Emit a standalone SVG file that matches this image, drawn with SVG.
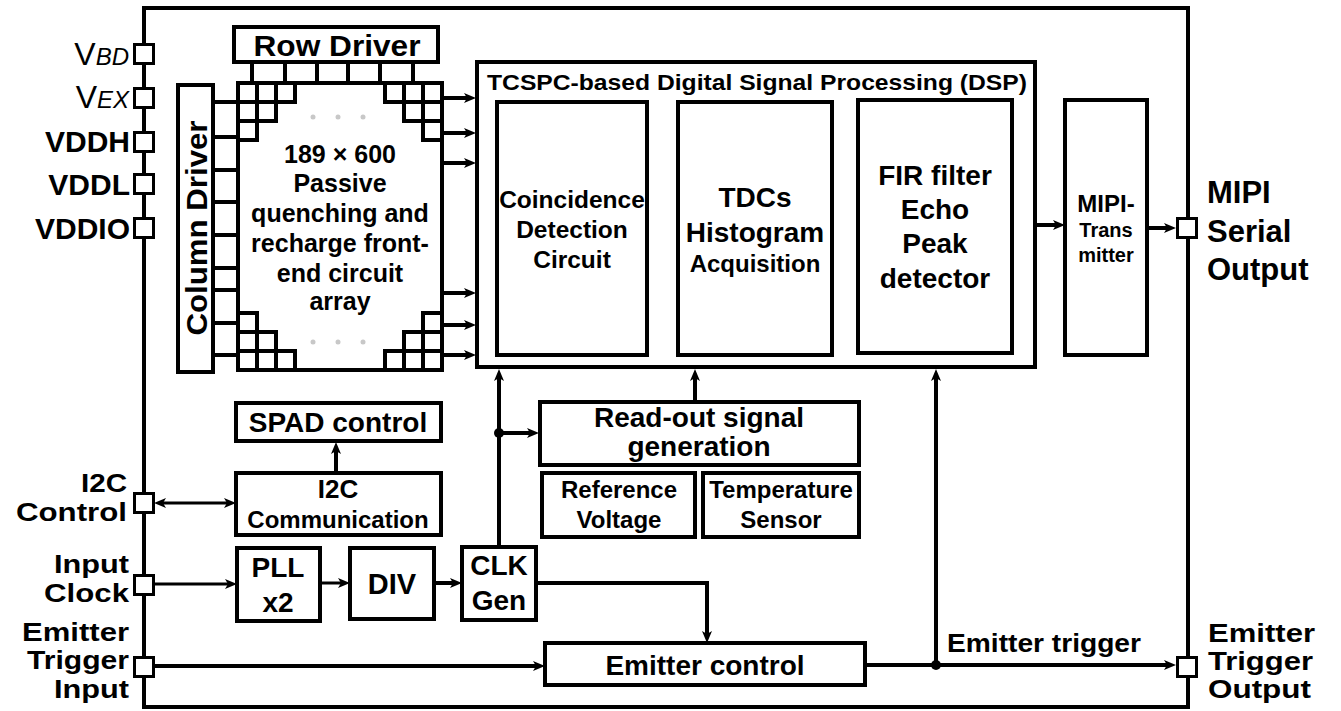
<svg xmlns="http://www.w3.org/2000/svg" width="1341" height="711" viewBox="0 0 1341 711">
<style>
.box{fill:#fff;stroke:#000;stroke-width:4}
.cell{fill:#fff;stroke:#000;stroke-width:4}
.pin{fill:#fff;stroke:#000;stroke-width:3}
.t{font-family:"Liberation Sans",Arial,Helvetica,sans-serif;font-weight:bold;fill:#000}
.c{text-anchor:middle}
.e{text-anchor:end}
.w{fill:none;stroke:#000;stroke-width:4}
.w3{fill:none;stroke:#000;stroke-width:3}
.dot{fill:#c8c8c8}
</style>
<defs>
<marker id="ah" markerUnits="userSpaceOnUse" markerWidth="13" markerHeight="11" refX="6" refY="5" orient="auto-start-reverse" viewBox="0 0 13 11">
<path d="M0,0 L12,5 L0,10 L3,5 z" fill="#000"/>
</marker>
</defs>
<rect width="1341" height="711" fill="#fff"/>

<g id="chip">
<rect x="144" y="8" width="1044" height="699" fill="none" stroke="#000" stroke-width="4"/>
</g>

<g id="connectors">
<path class="w" d="M252,62V83 M285,62V83 M317,62V83 M348,62V83 M380,62V83 M413,62V83"/>
<path class="w" d="M213,102H238 M213,137H238 M213,170H238 M213,202H238 M213,235H238 M213,268H238 M213,290H238 M213,323H238 M213,355H238"/>
<path class="w" marker-end="url(#ah)" d="M442,98H470"/>
<path class="w" marker-end="url(#ah)" d="M442,133H470"/>
<path class="w" marker-end="url(#ah)" d="M442,163H470"/>
<path class="w" marker-end="url(#ah)" d="M442,293H470"/>
<path class="w" marker-end="url(#ah)" d="M442,325H470"/>
<path class="w" marker-end="url(#ah)" d="M442,355H470"/>
<path class="w" marker-end="url(#ah)" d="M647,230H672"/>
<path class="w" marker-end="url(#ah)" d="M832,230H852"/>
<path class="w" marker-end="url(#ah)" d="M1035,225H1059"/>
<path class="w" marker-end="url(#ah)" d="M1147,228H1170"/>
<path class="w3" marker-start="url(#ah)" marker-end="url(#ah)" d="M160,503H230"/>
<path class="w" marker-end="url(#ah)" d="M336,472V448"/>
<path class="w3" marker-end="url(#ah)" d="M155,584H231"/>
<path class="w3" marker-end="url(#ah)" d="M320,583H344"/>
<path class="w" marker-end="url(#ah)" d="M434,583H456"/>
<path class="w" marker-end="url(#ah)" d="M499,547V375"/>
<path class="w" marker-end="url(#ah)" d="M499,433H533"/>
<circle cx="499" cy="433" r="5" fill="#000"/>
<path class="w" marker-end="url(#ah)" d="M695,402V375"/>
<path class="w" marker-end="url(#ah)" d="M536,583H707V637"/>
<path class="w" marker-end="url(#ah)" d="M155,666H539"/>
<path class="w" marker-end="url(#ah)" d="M865,665H1170"/>
<path class="w" marker-end="url(#ah)" d="M936,665V375"/>
<circle cx="936" cy="665" r="5" fill="#000"/>
<text class="t" x="947" y="652" font-size="26" textLength="194" lengthAdjust="spacingAndGlyphs">Emitter trigger</text>
</g>

<g id="row-driver">
<rect class="box" x="234" y="27" width="204" height="35"/>
<text class="t c" x="337" y="56" font-size="29" textLength="167" lengthAdjust="spacingAndGlyphs">Row Driver</text>
</g>

<g id="column-driver">
<rect class="box" x="178" y="85" width="35" height="287"/>
<text class="t c" transform="translate(207,228) rotate(-90)" font-size="29" textLength="215" lengthAdjust="spacingAndGlyphs">Column Driver</text>
</g>

<g id="spad-array">
<rect class="box" x="238" y="83" width="204" height="287"/>
<rect class="cell" x="238" y="83" width="19" height="19"/>
<rect class="cell" x="257" y="83" width="19" height="19"/>
<rect class="cell" x="276" y="83" width="19" height="19"/>
<rect class="cell" x="238" y="102" width="19" height="19"/>
<rect class="cell" x="257" y="102" width="19" height="19"/>
<rect class="cell" x="238" y="121" width="19" height="19"/>
<rect class="cell" x="385" y="83" width="19" height="19"/>
<rect class="cell" x="404" y="83" width="19" height="19"/>
<rect class="cell" x="423" y="83" width="19" height="19"/>
<rect class="cell" x="404" y="102" width="19" height="19"/>
<rect class="cell" x="423" y="102" width="19" height="19"/>
<rect class="cell" x="423" y="121" width="19" height="19"/>
<rect class="cell" x="238" y="351" width="19" height="19"/>
<rect class="cell" x="257" y="351" width="19" height="19"/>
<rect class="cell" x="276" y="351" width="19" height="19"/>
<rect class="cell" x="238" y="332" width="19" height="19"/>
<rect class="cell" x="257" y="332" width="19" height="19"/>
<rect class="cell" x="238" y="313" width="19" height="19"/>
<rect class="cell" x="385" y="351" width="19" height="19"/>
<rect class="cell" x="404" y="351" width="19" height="19"/>
<rect class="cell" x="423" y="351" width="19" height="19"/>
<rect class="cell" x="404" y="332" width="19" height="19"/>
<rect class="cell" x="423" y="332" width="19" height="19"/>
<rect class="cell" x="423" y="313" width="19" height="19"/>
<circle class="dot" cx="313" cy="117" r="2.5"/>
<circle class="dot" cx="338" cy="117" r="2.5"/>
<circle class="dot" cx="363" cy="117" r="2.5"/>
<circle class="dot" cx="313" cy="342" r="2.5"/>
<circle class="dot" cx="338" cy="342" r="2.5"/>
<circle class="dot" cx="363" cy="342" r="2.5"/>
<text class="t c" x="340" y="163" font-size="25">189 × 600</text>
<text class="t c" x="340" y="192" font-size="25">Passive</text>
<text class="t c" x="340" y="222" font-size="25">quenching and</text>
<text class="t c" x="340" y="252" font-size="25">recharge front-</text>
<text class="t c" x="340" y="282" font-size="25">end circuit</text>
<text class="t c" x="340" y="310" font-size="25">array</text>
</g>

<g id="dsp">
<rect class="box" x="477" y="62" width="558" height="305"/>
<text class="t" x="487" y="90" font-size="22" textLength="540" lengthAdjust="spacingAndGlyphs">TCSPC-based Digital Signal Processing (DSP)</text>
</g>

<g id="coincidence">
<rect class="box" x="497" y="102" width="150" height="253"/>
<text class="t c" x="572" y="208" font-size="24.5">Coincidence</text>
<text class="t c" x="572" y="238" font-size="24.5">Detection</text>
<text class="t c" x="572" y="268" font-size="24.5">Circuit</text>
</g>

<g id="tdc">
<rect class="box" x="678" y="102" width="154" height="253"/>
<text class="t c" x="755" y="207" font-size="28">TDCs</text>
<text class="t c" x="755" y="242" font-size="28">Histogram</text>
<text class="t c" x="755" y="272" font-size="24">Acquisition</text>
</g>

<g id="fir">
<rect class="box" x="858" y="100" width="154" height="253"/>
<text class="t c" x="935" y="185" font-size="28">FIR filter</text>
<text class="t c" x="935" y="219" font-size="28">Echo</text>
<text class="t c" x="935" y="253" font-size="28">Peak</text>
<text class="t c" x="935" y="288" font-size="28">detector</text>
</g>

<g id="mipi-tx">
<rect class="box" x="1065" y="100" width="82" height="255"/>
<text class="t c" x="1106" y="212" font-size="24">MIPI-</text>
<text class="t c" x="1106" y="237" font-size="20">Trans</text>
<text class="t c" x="1106" y="262" font-size="20">mitter</text>
</g>

<g id="spad-control">
<rect class="box" x="236" y="403" width="205" height="38"/>
<text class="t c" x="338" y="432" font-size="28">SPAD control</text>
</g>

<g id="i2c-comm">
<rect class="box" x="236" y="473" width="205" height="62"/>
<text class="t c" x="338" y="498" font-size="26">I2C</text>
<text class="t c" x="338" y="528" font-size="24">Communication</text>
</g>

<g id="pll">
<rect class="box" x="237" y="548" width="83" height="73"/>
<text class="t c" x="278" y="577" font-size="28">PLL</text>
<text class="t c" x="278" y="612" font-size="28">x2</text>
</g>

<g id="div">
<rect class="box" x="350" y="548" width="84" height="71"/>
<text class="t c" x="392" y="594" font-size="29">DIV</text>
</g>

<g id="clk-gen">
<rect class="box" x="462" y="547" width="74" height="73"/>
<text class="t c" x="499" y="575" font-size="28">CLK</text>
<text class="t c" x="499" y="610" font-size="28">Gen</text>
</g>

<g id="readout">
<rect class="box" x="540" y="402" width="319" height="63"/>
<text class="t c" x="699" y="427" font-size="28">Read-out signal</text>
<text class="t c" x="699" y="456" font-size="28">generation</text>
</g>

<g id="ref-voltage">
<rect class="box" x="542" y="473" width="153" height="64"/>
<text class="t c" x="619" y="498" font-size="24">Reference</text>
<text class="t c" x="619" y="528" font-size="24">Voltage</text>
</g>

<g id="temp-sensor">
<rect class="box" x="703" y="473" width="156" height="64"/>
<text class="t c" x="781" y="498" font-size="24">Temperature</text>
<text class="t c" x="781" y="528" font-size="24">Sensor</text>
</g>

<g id="emitter-control">
<rect class="box" x="545" y="643" width="320" height="42"/>
<text class="t c" x="705" y="675" font-size="28">Emitter control</text>
</g>

<g id="pin-vbd">
<rect class="pin" x="134.5" y="44.5" width="19" height="19"/>
<text class="t e" x="129" y="65"><tspan font-size="32" font-weight="normal">V</tspan><tspan font-size="24" font-style="italic" font-weight="normal">BD</tspan></text>
</g>
<g id="pin-vex">
<rect class="pin" x="134.5" y="88.5" width="19" height="19"/>
<text class="t e" x="129" y="108"><tspan font-size="32" font-weight="normal">V</tspan><tspan font-size="24" font-style="italic" font-weight="normal">EX</tspan></text>
</g>
<g id="pin-vddh">
<rect class="pin" x="134.5" y="132.5" width="19" height="19"/>
<text class="t e" x="130" y="152" font-size="30">VDDH</text>
</g>
<g id="pin-vddl">
<rect class="pin" x="134.5" y="174.5" width="19" height="19"/>
<text class="t e" x="130" y="195" font-size="30">VDDL</text>
</g>
<g id="pin-vddio">
<rect class="pin" x="134.5" y="218.5" width="19" height="19"/>
<text class="t e" x="130" y="239" font-size="30">VDDIO</text>
</g>
<g id="pin-i2c">
<rect class="pin" x="134.5" y="493.5" width="19" height="19"/>
<text class="t e" x="127" y="492" font-size="25" textLength="46" lengthAdjust="spacingAndGlyphs">I2C</text>
<text class="t e" x="127" y="521" font-size="25" textLength="111" lengthAdjust="spacingAndGlyphs">Control</text>
</g>
<g id="pin-input-clock">
<rect class="pin" x="134.5" y="575.5" width="19" height="19"/>
<text class="t e" x="129" y="573" font-size="25" textLength="75" lengthAdjust="spacingAndGlyphs">Input</text>
<text class="t e" x="129" y="602" font-size="25" textLength="85" lengthAdjust="spacingAndGlyphs">Clock</text>
</g>
<g id="pin-emitter-trigger-input">
<rect class="pin" x="134.5" y="657.5" width="19" height="19"/>
<text class="t e" x="129" y="641" font-size="25" textLength="107" lengthAdjust="spacingAndGlyphs">Emitter</text>
<text class="t e" x="129" y="669" font-size="25" textLength="102" lengthAdjust="spacingAndGlyphs">Trigger</text>
<text class="t e" x="129" y="698" font-size="25" textLength="75" lengthAdjust="spacingAndGlyphs">Input</text>
</g>
<g id="pin-mipi-out">
<rect class="pin" x="1177.5" y="218.5" width="19" height="19"/>
<text class="t" x="1207" y="203" font-size="31">MIPI</text>
<text class="t" x="1207" y="242" font-size="31">Serial</text>
<text class="t" x="1207" y="280" font-size="31">Output</text>
</g>
<g id="pin-emitter-trigger-output">
<rect class="pin" x="1177.5" y="657.5" width="19" height="19"/>
<text class="t" x="1208" y="642" font-size="25" textLength="107" lengthAdjust="spacingAndGlyphs">Emitter</text>
<text class="t" x="1208" y="670" font-size="25" textLength="105" lengthAdjust="spacingAndGlyphs">Trigger</text>
<text class="t" x="1208" y="698" font-size="25" textLength="103" lengthAdjust="spacingAndGlyphs">Output</text>
</g>
</svg>
